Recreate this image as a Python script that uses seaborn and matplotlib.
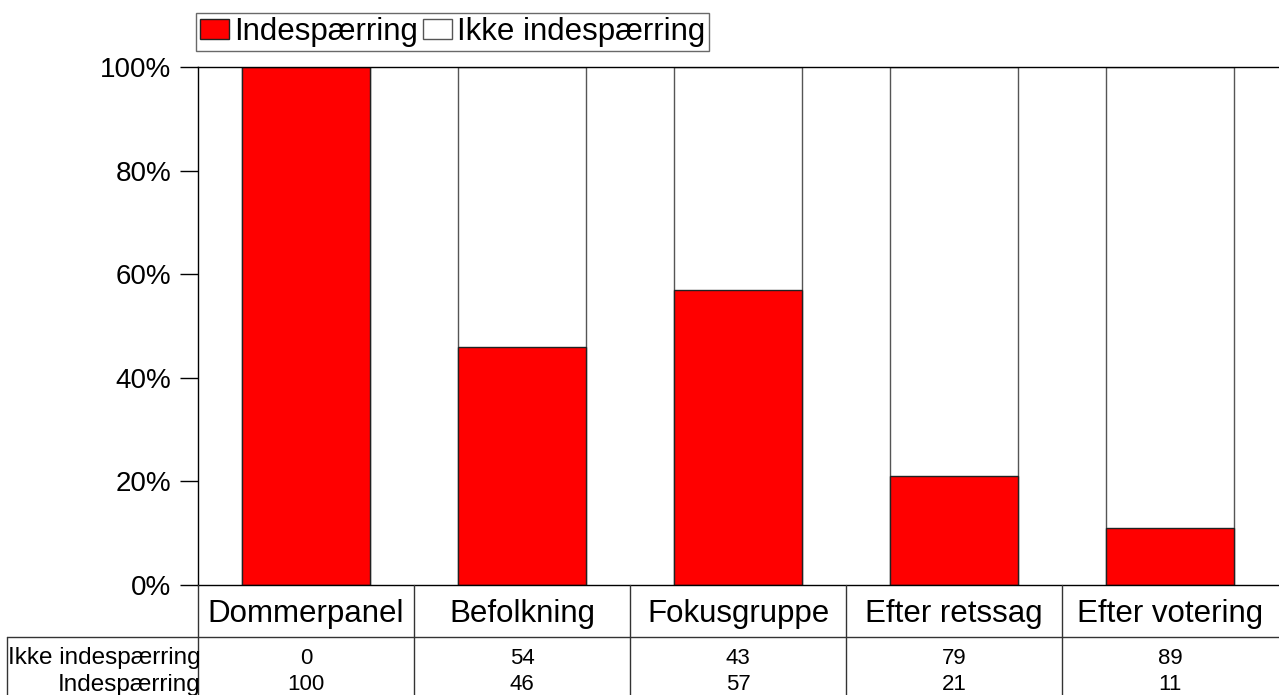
import numpy as np
import pandas as pd
import matplotlib
matplotlib.use("Agg")
import matplotlib.pyplot as plt
import matplotlib.transforms as mtransforms
from matplotlib.patches import Patch
import seaborn as sns

# Data (percent)
categories = ["Dommerpanel", "Befolkning", "Fokusgruppe", "Efter retssag", "Efter votering"]
indespaerring = [100, 46, 57, 21, 11]
ikke_indespaerring = [0, 54, 43, 79, 89]
row_labels = ["Ikke indespærring", "Indespærring"]
y_ticks = [0, 20, 40, 60, 80, 100]

df = pd.DataFrame({
    "kategori": categories,
    "Indespærring": indespaerring,
    "Ikke indespærring": ikke_indespaerring,
})
df["total"] = df["Indespærring"] + df["Ikke indespærring"]

sns.set_style("white")
plt.rcParams["font.family"] = ["Liberation Sans", "DejaVu Sans"]
plt.rcParams["text.color"] = "black"
plt.rcParams["ytick.color"] = "black"

W, H = 1279, 695
fig = plt.figure(figsize=(W / 100, H / 100), dpi=100)
ax = fig.add_axes([198 / W, 1 - 585 / H, 1080 / W, (585 - 67) / H])

# stacked bars: white total behind, red share in front
sns.barplot(data=df, x="kategori", y="total", color="white", edgecolor="#555555",
            linewidth=1, width=0.59, saturation=1, ax=ax)
sns.barplot(data=df, x="kategori", y="Indespærring", color="#ff0000", edgecolor="#222222",
            linewidth=1, width=0.59, saturation=1, ax=ax)

ax.set_xlim(-0.5, len(categories) - 0.5)
ax.set_ylim(0, 100)
ax.set_yticks(y_ticks)
ax.set_yticklabels([f"{t}%" for t in y_ticks], fontsize=20, color="black")
ax.tick_params(axis="y", direction="out", length=13, width=1, color="black", pad=6, left=True)
ax.set_xticks([])
ax.set_xlabel("")
ax.set_ylabel("")
for s in ["left", "bottom", "top"]:
    ax.spines[s].set_visible(True)
    ax.spines[s].set_color("black")
    ax.spines[s].set_linewidth(1)
ax.spines["right"].set_visible(False)

# data table below the axis
tr = mtransforms.blended_transform_factory(ax.transData, fig.transFigure)
fy = lambda py: 1 - py / H
line_kw = dict(color="#333333", linewidth=1, clip_on=False)

for i in range(len(categories)):
    fig.add_artist(plt.Line2D([i - 0.5, i - 0.5], [fy(585), fy(695)], transform=tr, **line_kw))
fig.add_artist(plt.Line2D([7 / W, 1], [fy(637), fy(637)], transform=fig.transFigure, **line_kw))
fig.add_artist(plt.Line2D([7 / W, 7 / W], [fy(637), fy(695)], transform=fig.transFigure, **line_kw))

for i, c in enumerate(categories):
    fig.text(i, fy(614), c, transform=tr, ha="center", va="center", fontsize=22.5)
    fig.text(i, fy(658), str(ikke_indespaerring[i]), transform=tr, ha="center", va="center", fontsize=16)
    fig.text(i, fy(685), str(indespaerring[i]), transform=tr, ha="center", va="center", fontsize=16)

fig.text(201 / W, fy(658), row_labels[0], ha="right", va="center", fontsize=17.5)
fig.text(201 / W, fy(685), row_labels[1], ha="right", va="center", fontsize=17.5)

# legend
handles = [Patch(facecolor="#ff0000", edgecolor="#222222", label="Indespærring"),
           Patch(facecolor="white", edgecolor="#555555", label="Ikke indespærring")]
leg = fig.legend(handles=handles, loc="upper left", bbox_to_anchor=(196 / W, fy(13)),
                 ncol=2, fontsize=22.5, frameon=True, fancybox=False, borderaxespad=0,
                 borderpad=0.12, handlelength=0.95, handleheight=0.6, handletextpad=0.15,
                 columnspacing=0.15)
leg.get_frame().set_edgecolor("#444444")
leg.get_frame().set_linewidth(1)

fig.savefig("out.png", dpi=100)
